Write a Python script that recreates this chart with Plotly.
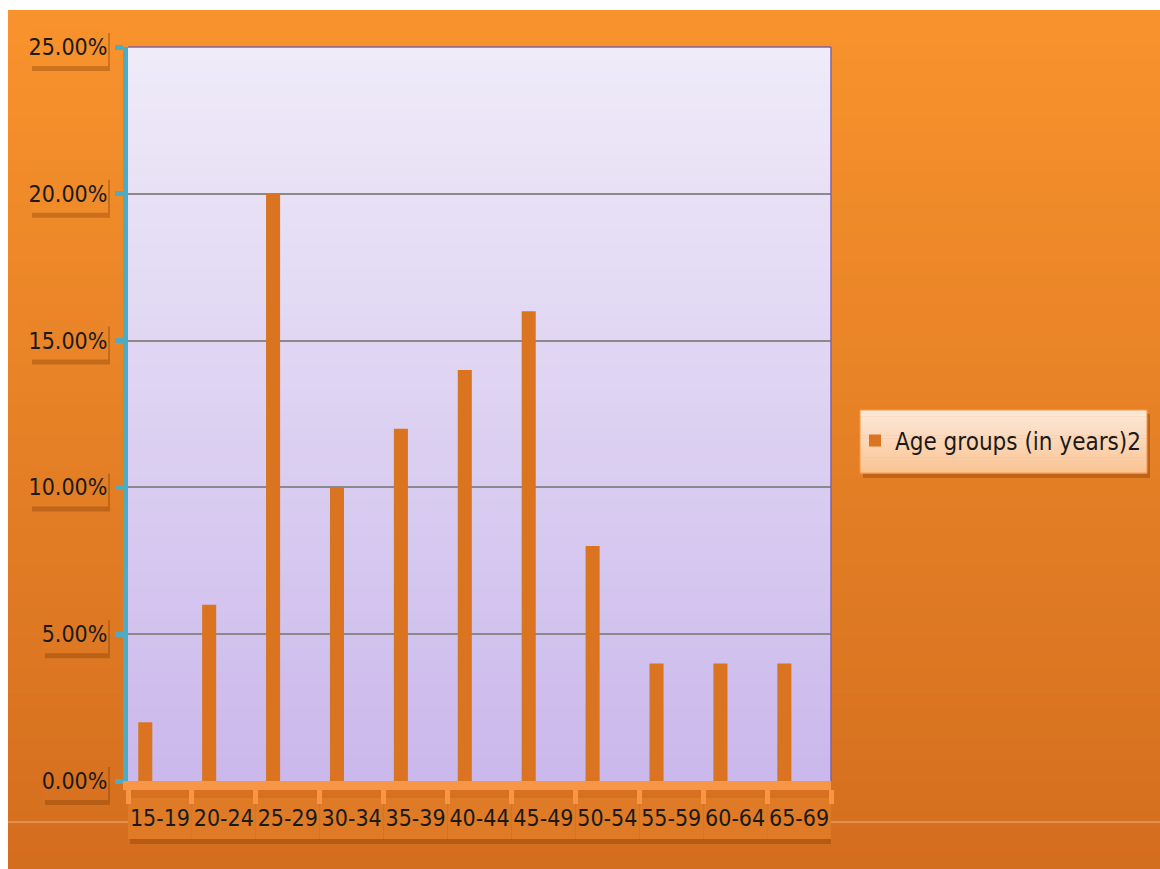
import plotly.graph_objects as go

categories = ["15-19", "20-24", "25-29", "30-34", "35-39", "40-44",
              "45-49", "50-54", "55-59", "60-64", "65-69"]
values = [0.02, 0.06, 0.20, 0.10, 0.12, 0.14, 0.16, 0.08, 0.04, 0.04, 0.04]
series_name = "Age groups (in years)2"
y_ticks = [0, 0.05, 0.10, 0.15, 0.20, 0.25]

W, H = 1160, 869
ML, MR, MT, MB = 128, 329, 47, 88
PW, PH = W - ML - MR, H - MT - MB
YMAX = 0.25


def px_x(p):
    return (p - ML) / PW


def px_y(p):
    return (H - MB - p) / PH


def lerp(c1, c2, t):
    return "rgb(%d,%d,%d)" % tuple(round(a + (b - a) * t) for a, b in zip(c1, c2))


FONT = "Liberation Sans Narrow, DejaVu Sans Condensed, Liberation Sans, sans-serif"
SHADOW = "rgba(110,45,0,0.30)"

shapes = []
# page background gradient
N = 60
top_c, bot_c = (248, 147, 45), (212, 110, 31)
for i in range(N):
    y0 = i * H / N
    y1 = (i + 1) * H / N + 1
    shapes.append(dict(type="rect", xref="paper", yref="paper", layer="below",
                       x0=px_x(0), x1=px_x(W), y0=px_y(min(y1, H)), y1=px_y(y0),
                       line=dict(width=0), fillcolor=lerp(top_c, bot_c, i / (N - 1))))
# white strips
shapes.append(dict(type="rect", xref="paper", yref="paper", layer="below",
                   x0=px_x(0), x1=px_x(W), y0=px_y(10), y1=px_y(0),
                   line=dict(width=0), fillcolor="white"))
shapes.append(dict(type="rect", xref="paper", yref="paper", layer="below",
                   x0=px_x(0), x1=px_x(8), y0=px_y(H), y1=px_y(0),
                   line=dict(width=0), fillcolor="white"))
# faint horizontal line
shapes.append(dict(type="line", xref="paper", yref="paper", layer="below",
                   x0=px_x(8), x1=px_x(W), y0=px_y(822), y1=px_y(822),
                   line=dict(width=1, color="rgba(255,255,255,0.45)")))

# tick label boxes (y axis) with shadows, sized to label length
for t in y_ticks:
    frac = t / YMAX
    nchar = len("%.2f%%" % (t * 100))
    left = 108 - 13 * nchar
    shapes.append(dict(type="rect", xref="paper", yref="paper", layer="below",
                       x0=px_x(left + 2), x1=px_x(110), y0=frac - (19 + 5) / PH, y1=frac + (19 - 5) / PH,
                       line=dict(width=0), fillcolor=SHADOW))
    col = lerp(top_c, bot_c, (H - MB - frac * PH) / H)
    shapes.append(dict(type="rect", xref="paper", yref="paper", layer="below",
                       x0=px_x(left), x1=px_x(108), y0=frac - 19 / PH, y1=frac + 19 / PH,
                       line=dict(width=0), fillcolor=col))
# tick label boxes (x axis) with shadows
for i, c in enumerate(categories):
    shapes.append(dict(type="rect", xref="x", yref="paper", layer="below",
                       x0=i - 0.5 + 0.03, x1=i + 0.5 + 0.03, y0=px_y(844), y1=px_y(803),
                       line=dict(width=0), fillcolor=SHADOW))
    shapes.append(dict(type="rect", xref="x", yref="paper", layer="below",
                       x0=i - 0.5, x1=i + 0.5, y0=px_y(839), y1=px_y(798),
                       line=dict(width=0), fillcolor="rgb(223,122,38)"))

# plot area gradient
pt, pb = (239, 235, 248), (203, 184, 236)
for i in range(N):
    shapes.append(dict(type="rect", xref="paper", yref="paper", layer="below",
                       x0=0, x1=1, y0=max(0, 1 - (i + 1) / N - 0.002), y1=1 - i / N,
                       line=dict(width=0), fillcolor=lerp(pt, pb, i / (N - 1))))
# legend box with shadow
shapes.append(dict(type="rect", xref="paper", yref="paper", layer="below",
                   x0=px_x(863), x1=px_x(1150), y0=px_y(478), y1=px_y(414),
                   line=dict(width=0), fillcolor="rgba(120,50,0,0.35)"))
lg_t, lg_b = (253, 233, 217), (250, 196, 148)
NL = 20
for i in range(NL):
    a = 410 + i * 63 / NL
    b = 410 + (i + 1) * 63 / NL
    shapes.append(dict(type="rect", xref="paper", yref="paper", layer="below",
                       x0=px_x(860), x1=px_x(1147), y0=px_y(b + 0.5), y1=px_y(a),
                       line=dict(width=0), fillcolor=lerp(lg_t, lg_b, i / (NL - 1))))
shapes.append(dict(type="rect", xref="paper", yref="paper", layer="below",
                   x0=px_x(860), x1=px_x(1147), y0=px_y(473), y1=px_y(410),
                   line=dict(width=1, color="#F79646"), fillcolor="rgba(0,0,0,0)"))
# plot border top/right
shapes.append(dict(type="line", xref="paper", yref="paper", x0=0, x1=1, y0=1, y1=1,
                   line=dict(color="#8064A2", width=1.5)))
shapes.append(dict(type="line", xref="paper", yref="paper", x0=1, x1=1, y0=0, y1=1,
                   line=dict(color="#8064A2", width=1.5)))

fig = go.Figure()
fig.add_trace(go.Bar(
    x=categories, y=values, name=series_name,
    width=0.22, offset=-0.34,
    marker=dict(color="#DA7421", line=dict(width=0)),
    showlegend=True,
))

fig.update_layout(
    width=W, height=H,
    margin=dict(l=ML, r=MR, t=MT, b=MB, autoexpand=False),
    paper_bgcolor="#E3801F",
    plot_bgcolor="rgba(0,0,0,0)",
    font=dict(family=FONT, size=24, color="#1a1a1a"),
    shapes=shapes,
    showlegend=True,
    legend=dict(x=px_x(855), y=px_y(441), xanchor="left", yanchor="middle",
                bgcolor="rgba(0,0,0,0)", borderwidth=0,
                font=dict(family=FONT, size=24, color="#1a1a1a")),
    xaxis=dict(
        type="category", range=[-0.5, len(categories) - 0.5],
        showline=True, linecolor="#F79646", linewidth=9,
        ticks="outside", tickson="boundaries", ticklen=14, tickwidth=5,
        tickcolor="#F79646", showgrid=False, ticklabelstandoff=8,
        tickangle=0,
        tickfont=dict(family=FONT, size=23, color="#1a1a1a"),
    ),
    yaxis=dict(
        range=[0, YMAX], tickvals=y_ticks, tickformat=".2%",
        showline=True, linecolor="#4BACC6", linewidth=5,
        ticks="outside", ticklen=8, tickwidth=5, tickcolor="#4BACC6",
        showgrid=True, gridcolor="#8A8A8A", gridwidth=1.5,
        zeroline=False, ticklabelstandoff=3,
        tickfont=dict(family=FONT, size=23, color="#1a1a1a"),
    ),
)

fig.write_html("out.html")
